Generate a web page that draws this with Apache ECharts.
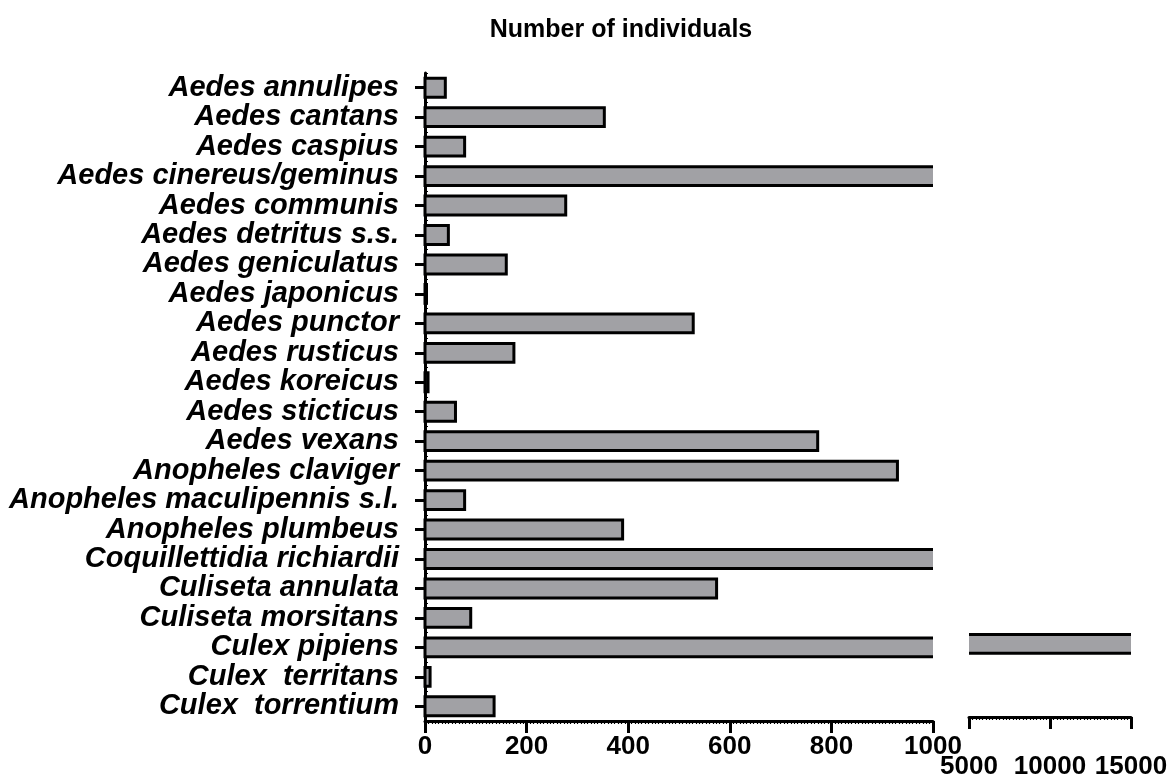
<!DOCTYPE html>
<html>
<head>
<meta charset="utf-8">
<script src="https://cdn.jsdelivr.net/npm/echarts@6/dist/echarts.min.js"></script>
<style>
  html, body { margin: 0; padding: 0; background: #fff; }
  #main { width: 1175px; height: 780px; }
</style>
</head>
<body>
<div id="main"></div>
<script>
var species = [
    'Aedes annulipes',
    'Aedes cantans',
    'Aedes caspius',
    'Aedes cinereus/geminus',
    'Aedes communis',
    'Aedes detritus s.s.',
    'Aedes geniculatus',
    'Aedes japonicus',
    'Aedes punctor',
    'Aedes rusticus',
    'Aedes koreicus',
    'Aedes sticticus',
    'Aedes vexans',
    'Anopheles claviger',
    'Anopheles maculipennis s.l.',
    'Anopheles plumbeus',
    'Coquillettidia richiardii',
    'Culiseta annulata',
    'Culiseta morsitans',
    'Culex pipiens',
    'Culex  territans',
    'Culex  torrentium'
];
// two bars run past 1000 and end inside the axis break (1000..5000)
var individuals = [40, 353, 78, 2500, 277, 46, 160, 3, 528, 175, 6, 60, 773, 930, 78, 389, 2000, 574, 90, 15000, 10, 136];

var lowTicks = [0, 1000, 200];      // min, max, interval of left part
var highTicks = [5000, 15000, 5000]; // min, max, interval of right part

var chartDom = document.getElementById('main');
var myChart = echarts.init(chartDom);
var option;

var font = "'Liberation Sans', Arial, sans-serif";

var barData = individuals.map(function (v, i) { return [v, i]; });

// bar drawn through the axes, cut at the grid edge without a closing border
function renderBar(params, api) {
    var cs = params.coordSys;
    var c = api.value(1);
    var p0 = api.coord([0, c]);
    var p1 = api.coord([api.value(0), c]);
    var h = api.size([0, 1])[1] * 0.64;
    var left = Math.max(p0[0], cs.x);
    var right = Math.min(p1[0], cs.x + cs.width);
    if (right <= left) return;
    var top = p1[1] - h / 2, bot = p1[1] + h / 2;
    var hasLeft = p0[0] >= cs.x - 0.5;
    var hasRight = p1[0] < cs.x + cs.width - 0.5;
    var line = { stroke: '#000', lineWidth: 3, fill: null, lineJoin: 'miter' };
    var kids = [{
        type: 'rect',
        shape: { x: left, y: top, width: right - left, height: h },
        style: { fill: '#a1a1a5' }
    }];
    if (hasLeft && hasRight) {
        kids.push({ type: 'rect', shape: { x: left, y: top, width: right - left, height: h }, style: line });
    } else if (hasLeft) {
        kids.push({ type: 'polyline', shape: { points: [[right, top], [left, top], [left, bot], [right, bot]] }, style: line });
    } else if (hasRight) {
        kids.push({ type: 'polyline', shape: { points: [[left, top], [right, top], [right, bot], [left, bot]] }, style: line });
    } else {
        kids.push({ type: 'line', shape: { x1: left, y1: top, x2: right, y2: top }, style: line });
        kids.push({ type: 'line', shape: { x1: left, y1: bot, x2: right, y2: bot }, style: line });
    }
    return { type: 'group', children: kids };
}

function valueAxis(gridIndex, t, labelMargin, minorSplit) {
    return {
        type: 'value',
        gridIndex: gridIndex,
        min: t[0],
        max: t[1],
        interval: t[2],
        axisLine: { show: true, lineStyle: { color: '#000', width: 3 } },
        axisTick: { show: true, length: 12, lineStyle: { color: '#000', width: 3 } },
        minorTick: { show: true, splitNumber: minorSplit, length: 3, lineStyle: { color: '#000', width: 1.2 } },
        splitLine: { show: false },
        minorSplitLine: { show: false },
        axisLabel: {
            margin: labelMargin,
            color: '#000',
            fontSize: 26,
            fontWeight: 'bold',
            fontFamily: font,
            showMaxLabel: true,
            showMinLabel: true,
            formatter: function (v) { return String(v); }
        }
    };
}

option = {
    animation: false,
    backgroundColor: '#fff',
    title: {
        text: 'Number of individuals',
        left: 616,
        top: 13,
        textAlign: 'center',
        textStyle: { color: '#000', fontSize: 25, fontWeight: 'bold', fontFamily: font }
    },
    grid: [
        { left: 425, top: 73, width: 508, height: 648 },
        { left: 969, top: 73, width: 162, height: 648 }
    ],
    xAxis: [
        valueAxis(0, lowTicks, 13, 30),
        valueAxis(1, highTicks, 37, 24)
    ],
    yAxis: [
        {
            type: 'category',
            gridIndex: 0,
            inverse: true,
            data: species,
            axisLine: { show: true, lineStyle: { color: '#000', width: 3 } },
            axisTick: { show: true, alignWithLabel: true, length: 10, lineStyle: { color: '#000', width: 3 } },
            axisLabel: {
                margin: 26,
                color: '#000',
                fontSize: 29,
                fontWeight: 'bold',
                fontStyle: 'italic',
                fontFamily: font,
                interval: 0
            }
        },
        {
            type: 'category',
            gridIndex: 1,
            inverse: true,
            data: species,
            show: false
        },
        {
            // small marks along the left axis
            type: 'value',
            gridIndex: 0,
            position: 'left',
            min: 0,
            max: 22,
            interval: 1,
            axisLine: { show: false },
            axisTick: { show: true, inside: true, length: 3, lineStyle: { color: '#000', width: 1 } },
            minorTick: { show: true, splitNumber: 3, length: 3, lineStyle: { color: '#000', width: 1 } },
            axisLabel: { show: false },
            splitLine: { show: false }
        }
    ],
    series: [
        {
            type: 'custom',
            xAxisIndex: 0,
            yAxisIndex: 0,
            renderItem: renderBar,
            encode: { x: 0, y: 1 },
            data: barData,
            z: 1
        },
        {
            type: 'custom',
            xAxisIndex: 1,
            yAxisIndex: 1,
            renderItem: renderBar,
            encode: { x: 0, y: 1 },
            data: barData,
            z: 1
        }
    ]
};

option && myChart.setOption(option);
</script>
</body>
</html>
